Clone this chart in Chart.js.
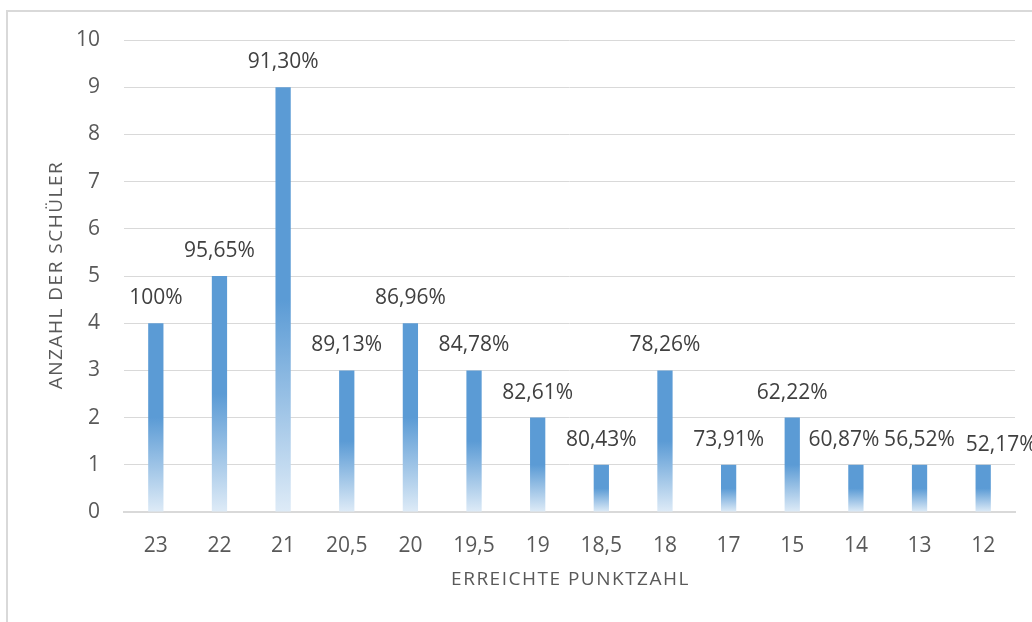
<!DOCTYPE html>
<html>
<head>
<meta charset="utf-8">
<script src="https://cdn.jsdelivr.net/npm/chart.js@4"></script>
<style>
  html, body { margin: 0; padding: 0; background: #fff; }
  #wrap { position: relative; width: 1032px; height: 622px; overflow: hidden; }
  #frame { position: absolute; left: 6px; top: 10px; width: 1100px; height: 700px;
           border-left: 2px solid #d9d9d9; border-top: 2px solid #d9d9d9; }
  canvas { position: absolute; left: 0; top: 0; }
</style>
</head>
<body>
<div id="wrap">
  <div id="frame"></div>
  <canvas id="barChart" width="1032" height="622"></canvas>
</div>
<script>
const punkte = ['23', '22', '21', '20,5', '20', '19,5', '19', '18,5', '18', '17', '15', '14', '13', '12'];
const anzahl = [4, 5, 9, 3, 4, 3, 2, 1, 3, 1, 2, 1, 1, 1];
const prozent = ['100%', '95,65%', '91,30%', '89,13%', '86,96%', '84,78%', '82,61%', '80,43%',
                 '78,26%', '73,91%', '62,22%', '60,87%', '56,52%', '52,17%'];
const xTitel = 'ERREICHTE PUNKTZAHL';
const yTitel = 'ANZAHL DER SCHÜLER';

const blau = '#5b9bd5';
const hellblau = '#deebf7';
const textGrau = '#595959';
const schrift = '"Open Sans", sans-serif';

// verlauf pro balken: oben voll, unten hell
const balkenFarbe = (c) => {
    const chart = c.chart;
    if (c.type !== 'data' || !chart.chartArea) return blau;
    const y = chart.scales.y;
    const top = y.getPixelForValue(anzahl[c.dataIndex]);
    const base = y.getPixelForValue(0);
    const g = chart.ctx.createLinearGradient(0, top, 0, base);
    g.addColorStop(0, blau);
    g.addColorStop(0.5, blau);
    g.addColorStop(1, hellblau);
    return g;
};

const prozentLabels = {
    id: 'prozentLabels',
    afterDatasetsDraw(chart) {
        // excel schiebt die letzten labels etwas auseinander
        const versatz = { 11: [-12, 0], 13: [18, 5] };
        const ctx = chart.ctx;
        const meta = chart.getDatasetMeta(0);
        ctx.save();
        ctx.font = '21px ' + schrift;
        ctx.fillStyle = '#404040';
        ctx.textAlign = 'center';
        ctx.textBaseline = 'middle';
        meta.data.forEach((bar, i) => {
            const [dx, dy] = versatz[i] || [0, 0];
            ctx.fillText(prozent[i], bar.x + dx, bar.y - 25 + dy);
        });
        ctx.restore();
    }
};

// achsentitel mit sperrung, chart.js kann kein letterSpacing
const achsenTitel = {
    id: 'achsenTitel',
    afterDraw(chart) {
        const ctx = chart.ctx;
        const a = chart.chartArea;
        ctx.save();
        ctx.font = '19px ' + schrift;
        ctx.letterSpacing = '1.5px';
        ctx.fillStyle = textGrau;
        ctx.textAlign = 'center';
        ctx.textBaseline = 'middle';
        ctx.fillText(xTitel, (a.left + a.right) / 2 + 1, 580);
        ctx.translate(57, (a.top + a.bottom) / 2);
        ctx.rotate(-Math.PI / 2);
        ctx.fillText(yTitel, 1, 0);
        ctx.restore();
    }
};

const data = {
    labels: punkte,
    datasets: [{
        data: anzahl,
        backgroundColor: balkenFarbe,
        borderWidth: 0,
        barPercentage: 0.24,
        categoryPercentage: 1
    }]
};

const options = {
    responsive: false,
    animation: false,
    layout: { padding: { left: 10, top: 40, right: 17, bottom: 0 } },
    plugins: { legend: { display: false }, tooltip: { enabled: false } },
    scales: {
        x: {
            grid: { display: false, drawTicks: false },
            border: { color: '#d9d9d9', width: 2 },
            ticks: { color: textGrau, font: { family: schrift, size: 21 }, padding: 21 },
            afterFit: (s) => { s.height = 110; }
        },
        y: {
            min: 0, max: 10,
            grid: { color: '#d9d9d9', lineWidth: 1, drawTicks: false },
            border: { display: false },
            ticks: { stepSize: 1, color: textGrau, font: { family: schrift, size: 21 }, padding: 24 },
            afterFit: (s) => { s.width = 114; }
        }
    }
};

new Chart('barChart', { type: 'bar', data, options, plugins: [prozentLabels, achsenTitel] });
</script>
</body>
</html>
